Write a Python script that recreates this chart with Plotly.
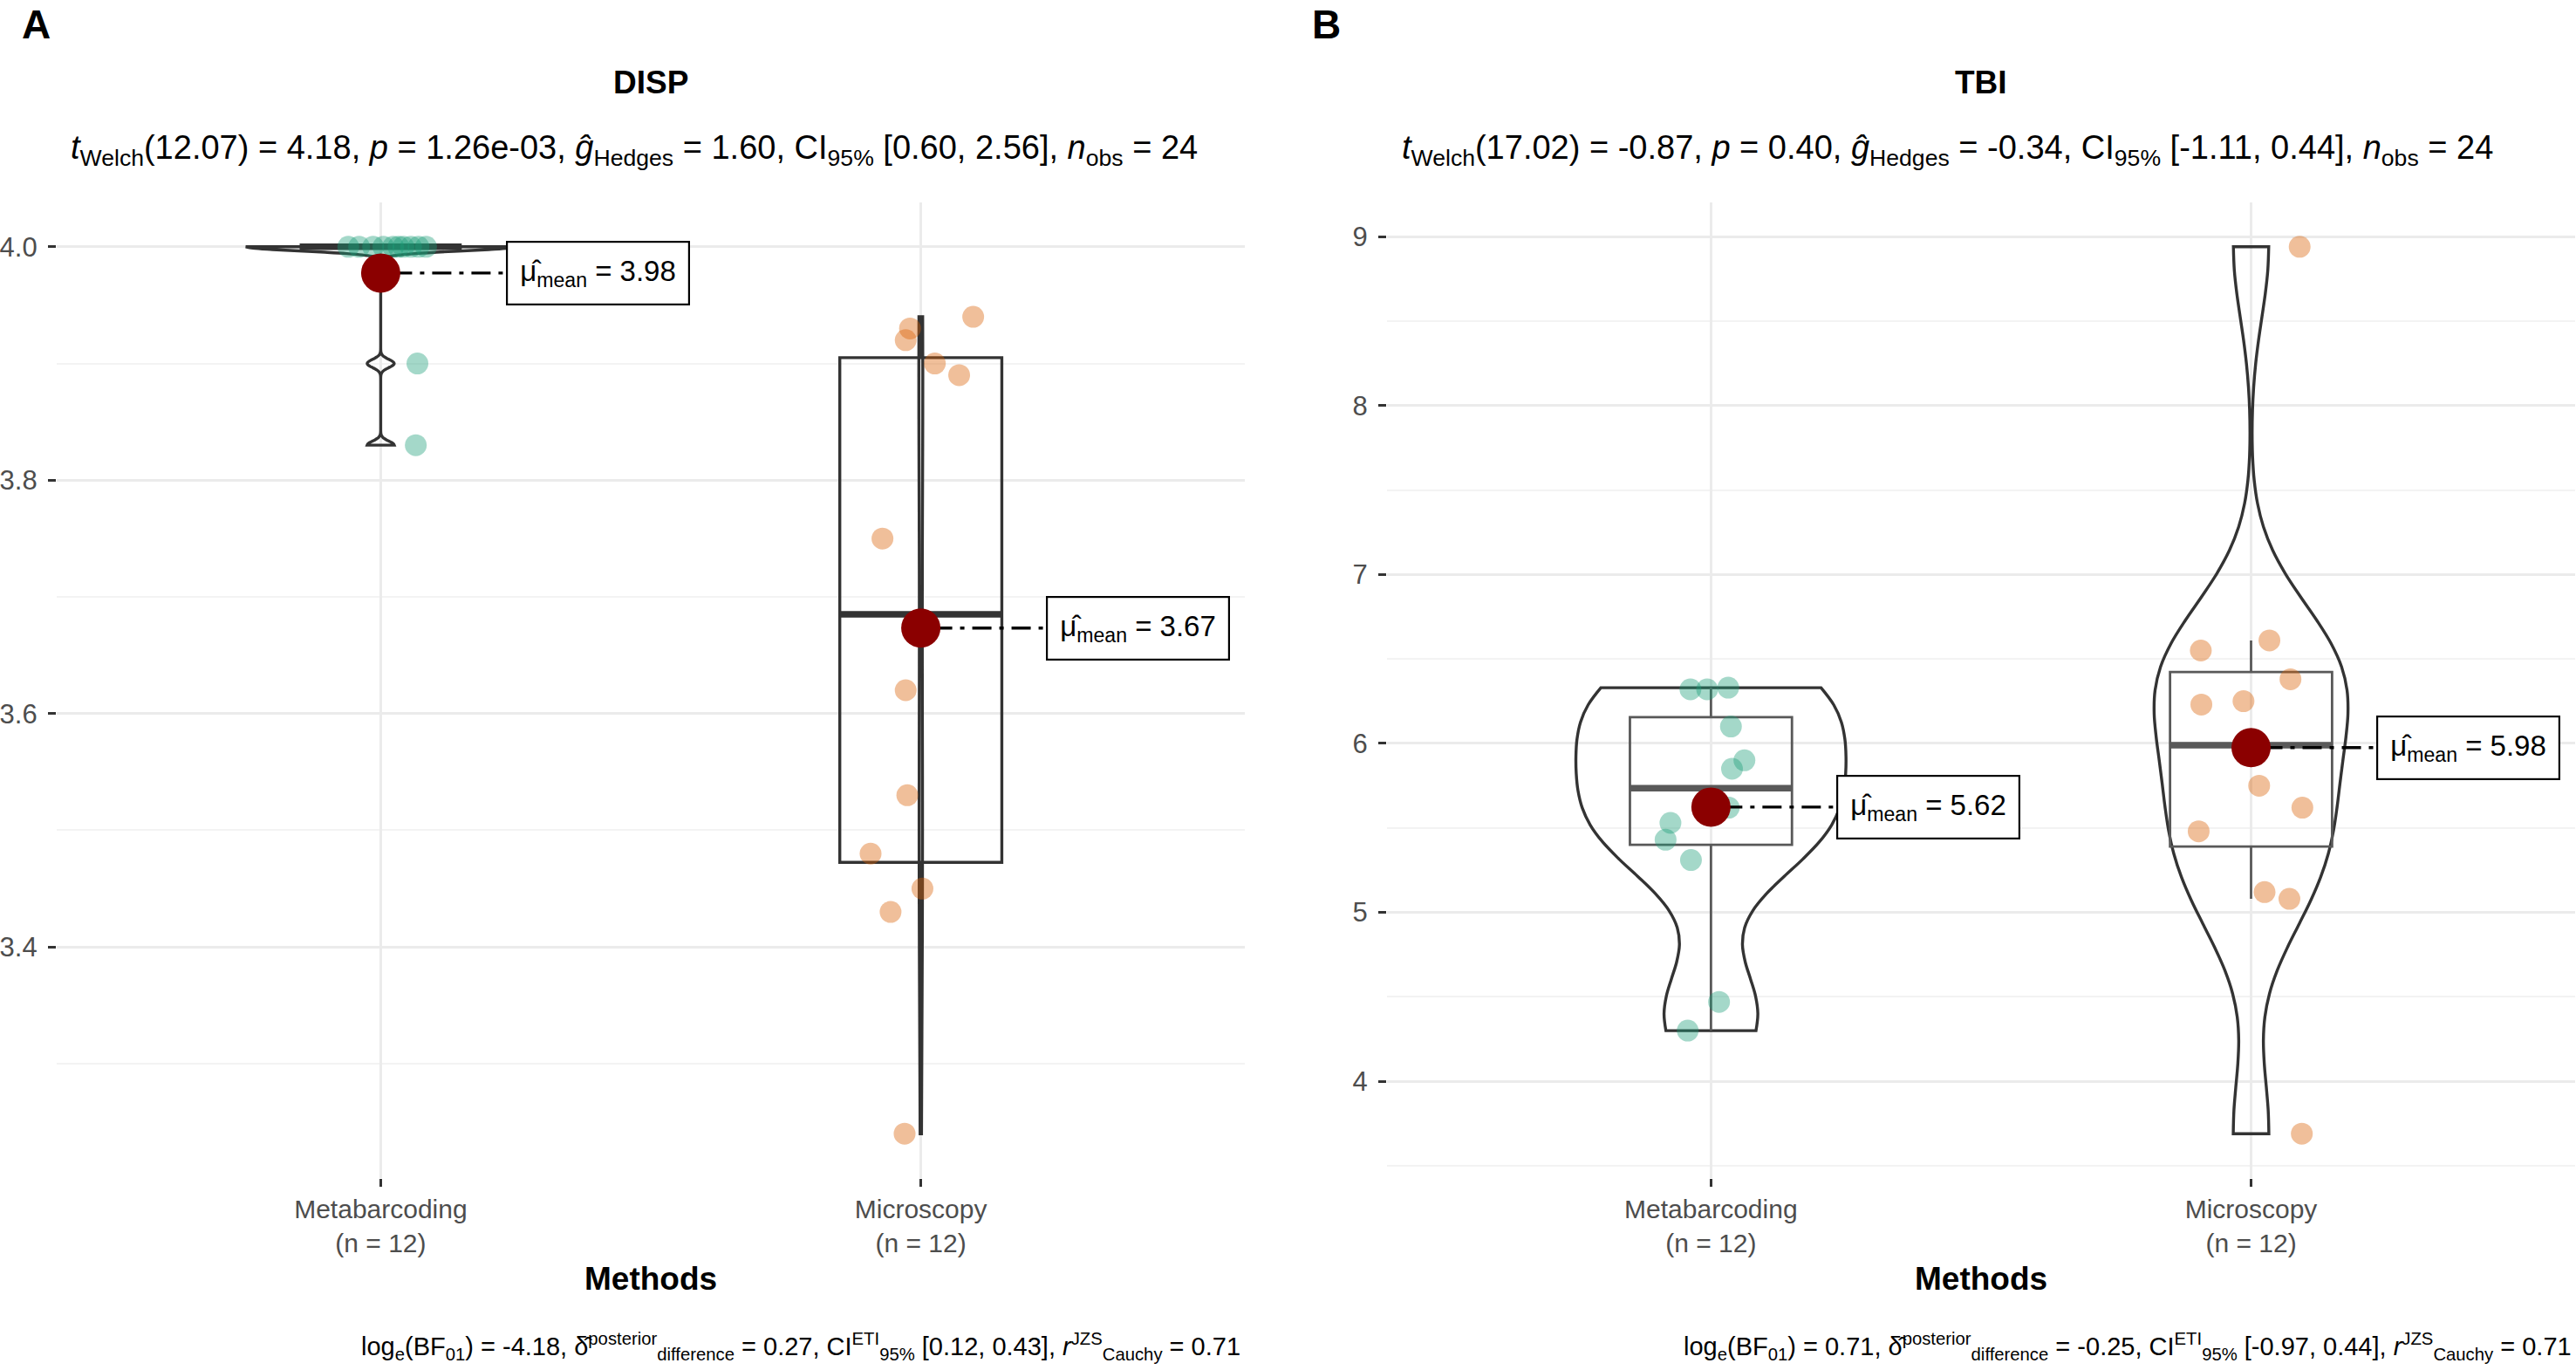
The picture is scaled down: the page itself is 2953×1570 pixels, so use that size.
import numpy as np
import plotly.graph_objects as go

# ---------------- data ----------------
methods = ["Metabarcoding", "Microscopy"]
group_n = ["(n = 12)", "(n = 12)"]

disp_metabarcoding = [4.00, 4.00, 4.00, 4.00, 4.00, 4.00, 4.00, 4.00, 4.00, 4.00, 3.90, 3.83]
disp_microscopy = [3.94, 3.93, 3.92, 3.90, 3.89, 3.75, 3.62, 3.53, 3.48, 3.45, 3.43, 3.24]
tbi_metabarcoding = [6.32, 6.32, 6.33, 6.10, 5.90, 5.85, 5.62, 5.53, 5.43, 5.31, 4.47, 4.30]
tbi_microscopy = [8.94, 6.55, 6.61, 6.38, 6.23, 6.25, 5.75, 5.62, 5.48, 5.12, 5.08, 3.69]

# horizontal jitter of the raw points (category units)
disp_metabarcoding_jitter = [-0.060, -0.040, -0.014, 0.005, 0.023, 0.033, 0.042, 0.056, 0.070, 0.084, 0.068, 0.065]
disp_microscopy_jitter = [0.097, -0.020, -0.028, 0.026, 0.071, -0.071, -0.028, -0.025, -0.093, 0.003, -0.056, -0.030]
tbi_metabarcoding_jitter = [-0.038, -0.007, 0.032, 0.037, 0.062, 0.039, 0.033, -0.075, -0.084, -0.037, 0.015, -0.043]
tbi_microscopy_jitter = [0.090, -0.093, 0.034, 0.073, -0.092, -0.014, 0.015, 0.095, -0.097, 0.025, 0.071, 0.094]

panel_letters = ["A", "B"]
panel_titles = ["DISP", "TBI"]
mean_labels_disp = ["3.98", "3.67"]
mean_labels_tbi = ["5.62", "5.98"]

subtitle_disp = ("<i>t</i><sub>Welch</sub>(12.07) = 4.18, <i>p</i> = 1.26e-03, "
                 "<i>ĝ</i><sub>Hedges</sub> = 1.60, CI<sub>95%</sub> [0.60, 2.56], "
                 "<i>n</i><sub>obs</sub> = 24")
subtitle_tbi = ("<i>t</i><sub>Welch</sub>(17.02) = -0.87, <i>p</i> = 0.40, "
                "<i>ĝ</i><sub>Hedges</sub> = -0.34, CI<sub>95%</sub> [-1.11, 0.44], "
                "<i>n</i><sub>obs</sub> = 24")
caption_disp = ("log<sub>e</sub>(BF<sub>01</sub>) = -4.18, δ̂<sup>posterior</sup><sub>difference</sub> = 0.27, "
                "CI<sup>ETI</sup><sub>95%</sub> [0.12, 0.43], <i>r</i><sup>JZS</sup><sub>Cauchy</sub> = 0.71")
caption_tbi = ("log<sub>e</sub>(BF<sub>01</sub>) = 0.71, δ̂<sup>posterior</sup><sub>difference</sub> = -0.25, "
               "CI<sup>ETI</sup><sub>95%</sub> [-0.97, 0.44], <i>r</i><sup>JZS</sup><sub>Cauchy</sub> = 0.71")
x_title = "Methods"

# ---------------- style ----------------
W, H = 2953, 1570
FONT = "Liberation Sans"
point_colors = ["#1B9E77", "#D95F02"]
mean_color = "#8B0000"
grid_major = "#EBEBEB"
grid_minor = "#F3F3F3"
tick_col = "#333333"
label_grey = "#4D4D4D"


def px_x(p):
    return p / W


def px_y(p):
    return 1 - p / H


def nrd0(v):
    v = np.asarray(v, dtype=float)
    sd = v.std(ddof=1)
    q75, q25 = np.percentile(v, [75, 25])
    lo = min(sd, (q75 - q25) / 1.34)
    if lo == 0:
        lo = sd if sd > 0 else (abs(v[0]) if v[0] != 0 else 1.0)
    return 0.9 * lo * len(v) ** -0.2


panels = [
    dict(letter=panel_letters[0], title=panel_titles[0], sub=subtitle_disp, cap=caption_disp,
         groups=[disp_metabarcoding, disp_microscopy],
         jitters=[disp_metabarcoding_jitter, disp_microscopy_jitter],
         labels=mean_labels_disp, xa="x", ya="y",
         dom=[61, 1425], letter_x=19, sub_cx=724, cap_right=1422,
         dtick=0.2, minor=0.1, fmt=".1f", bw=[0.0035, None],
         boxcol="#333333", boxw=3.4),
    dict(letter=panel_letters[1], title=panel_titles[1], sub=subtitle_tbi, cap=caption_tbi,
         groups=[tbi_metabarcoding, tbi_microscopy],
         jitters=[tbi_metabarcoding_jitter, tbi_microscopy_jitter],
         labels=mean_labels_tbi, xa="x2", ya="y2",
         dom=[1588, 2952], letter_x=1500, sub_cx=2232, cap_right=2950,
         dtick=1, minor=0.5, fmt="d", bw=[None, None],
         boxcol="#595959", boxw=2.8),
]

fig = go.Figure()
annotations = []
plot_top, plot_bottom = 232, 1350
label_offset = 0.232

for k, P in enumerate(panels):
    allv = np.concatenate([np.asarray(g, float) for g in P["groups"]])
    span = allv.max() - allv.min()
    yr = [allv.min() - 0.05 * span, allv.max() + 0.05 * span]

    for gi, vals in enumerate(P["groups"]):
        pos = gi + 1
        v = np.asarray(vals, float)
        bw = P["bw"][gi] if P["bw"][gi] is not None else nrd0(v)
        # width left automatic (violingap) so that the scale group is shared
        fig.add_trace(go.Violin(
            x0=pos, y=v, scalegroup=P["letter"], scalemode="count",
            spanmode="hard", bandwidth=bw, points=False,
            box_visible=False, meanline_visible=False,
            line=dict(color="#333333", width=3.4), fillcolor="rgba(255,255,255,0)",
            xaxis=P["xa"], yaxis=P["ya"], hoverinfo="skip", showlegend=False))

        q1, med, q3 = np.percentile(v, [25, 50, 75])
        iqr = q3 - q1
        lf = v[v >= q1 - 1.5 * iqr].min()
        uf = v[v <= q3 + 1.5 * iqr].max()
        fig.add_trace(go.Box(
            x=[pos], q1=[q1], median=[med], q3=[q3], lowerfence=[lf], upperfence=[uf],
            width=0.3, whiskerwidth=0, boxpoints=False,
            fillcolor="rgba(255,255,255,0)", line=dict(color=P["boxcol"], width=P["boxw"]),
            xaxis=P["xa"], yaxis=P["ya"], hoverinfo="skip", showlegend=False))
        fig.add_trace(go.Scatter(
            x=[pos - 0.15, pos + 0.15], y=[med, med], mode="lines",
            line=dict(color=P["boxcol"], width=7.5),
            xaxis=P["xa"], yaxis=P["ya"], hoverinfo="skip", showlegend=False))

        fig.add_trace(go.Scatter(
            x=pos + np.asarray(P["jitters"][gi]), y=v, mode="markers",
            marker=dict(size=25, color=point_colors[gi], opacity=0.4, line=dict(width=0)),
            xaxis=P["xa"], yaxis=P["ya"], hoverinfo="skip", showlegend=False))

        mean = v.mean()
        fig.add_trace(go.Scatter(
            x=[pos, pos + label_offset], y=[mean, mean], mode="lines",
            line=dict(color="black", width=3.4, dash="5px,9px,22px,9px"),
            xaxis=P["xa"], yaxis=P["ya"], hoverinfo="skip", showlegend=False))
        fig.add_trace(go.Scatter(
            x=[pos], y=[mean], mode="markers",
            marker=dict(size=45, color=mean_color, line=dict(width=0)),
            xaxis=P["xa"], yaxis=P["ya"], hoverinfo="skip", showlegend=False))

        annotations.append(dict(
            x=pos + label_offset, y=mean, xref=P["xa"], yref=P["ya"],
            xanchor="left", yanchor="middle", showarrow=False, align="left",
            text="μ̂<sub>mean</sub> = " + P["labels"][gi],
            font=dict(family=FONT, size=33, color="black"),
            bgcolor="white", bordercolor="black", borderwidth=2.2, borderpad=14))

    axis_suffix = "" if k == 0 else "2"
    fig.update_layout(**{
        "xaxis" + axis_suffix: dict(
            domain=[px_x(P["dom"][0]), px_x(P["dom"][1])], range=[0.4, 2.6],
            tickvals=[1, 2], ticktext=[m + "<br>" + n for m, n in zip(methods, group_n)],
            showgrid=True, gridcolor=grid_major, gridwidth=2.7, zeroline=False, showline=False,
            ticks="outside", ticklen=9, tickwidth=2.5, tickcolor=tick_col,
            tickfont=dict(family=FONT, size=30, color=label_grey),
            anchor="y" + axis_suffix, fixedrange=True),
        "yaxis" + axis_suffix: dict(
            domain=[px_y(plot_bottom), px_y(plot_top)], range=yr,
            tick0=0, dtick=P["dtick"], tickformat=P["fmt"],
            minor=dict(tick0=0, dtick=P["minor"], showgrid=True, gridcolor=grid_minor,
                       gridwidth=1.6, ticks=""),
            showgrid=True, gridcolor=grid_major, gridwidth=2.7, zeroline=False, showline=False,
            ticks="outside", ticklen=9, tickwidth=2.5, tickcolor=tick_col,
            ticklabelstandoff=6,
            tickfont=dict(family=FONT, size=31, color=label_grey),
            anchor="x" + axis_suffix, fixedrange=True),
    })

    cx = (P["dom"][0] + P["dom"][1]) / 2
    annotations += [
        dict(x=px_x(P["letter_x"]), y=1, xref="paper", yref="paper",
             xanchor="left", yanchor="top", showarrow=False,
             text="<b>" + P["letter"] + "</b>", font=dict(family=FONT, size=46, color="black")),
        dict(x=px_x(cx), y=px_y(95), xref="paper", yref="paper",
             xanchor="center", yanchor="middle", showarrow=False,
             text="<b>" + P["title"] + "</b>", font=dict(family=FONT, size=37, color="black")),
        dict(x=px_x(P["sub_cx"]), y=px_y(172), xref="paper", yref="paper",
             xanchor="center", yanchor="middle", showarrow=False,
             text=P["sub"], font=dict(family=FONT, size=38, color="black")),
        dict(x=px_x(cx), y=px_y(1465), xref="paper", yref="paper",
             xanchor="center", yanchor="middle", showarrow=False,
             text="<b>" + x_title + "</b>", font=dict(family=FONT, size=37, color="black")),
        dict(x=px_x(P["cap_right"]), y=px_y(1543), xref="paper", yref="paper",
             xanchor="right", yanchor="middle", showarrow=False,
             text=P["cap"], font=dict(family=FONT, size=29, color="black")),
    ]

fig.update_layout(
    width=W, height=H, autosize=False,
    margin=dict(l=0, r=0, t=0, b=0, pad=0),
    paper_bgcolor="white", plot_bgcolor="white",
    showlegend=False, violinmode="overlay", boxmode="overlay",
    violingap=0.5, violingroupgap=0,
    annotations=annotations,
    font=dict(family=FONT),
)

fig.write_html("out.html", config={"displayModeBar": False},
               post_script="document.body.style.margin='0';document.body.style.overflow='hidden';")
